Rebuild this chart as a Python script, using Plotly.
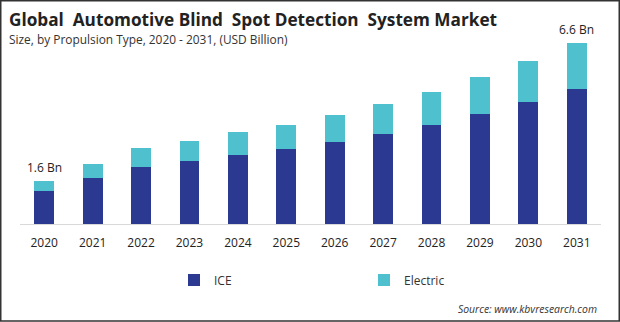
import plotly.graph_objects as go

years = ["2020", "2021", "2022", "2023", "2024", "2025", "2026", "2027", "2028", "2029", "2030", "2031"]
ice = [1.21, 1.68, 2.09, 2.31, 2.53, 2.75, 3.00, 3.30, 3.63, 4.03, 4.47, 4.95]
electric = [0.37, 0.52, 0.69, 0.73, 0.84, 0.88, 0.99, 1.10, 1.21, 1.35, 1.50, 1.68]
end_labels = {"2020": "1.6 Bn", "2031": "6.6 Bn"}

ICE_COLOR = "#2b3990"
EL_COLOR = "#4fc1ce"
FONT = "Open Sans"

W, H = 620, 322
ML, MR, MT, MB = 20, 19, 30, 98
pw = W - ML - MR
ph = H - MT - MB


def py(pixel_y):
    # pixel row from top of the image -> paper y
    return (MT + ph - pixel_y) / ph


def px(pixel_x):
    return (pixel_x - ML) / pw


fig = go.Figure()
fig.add_bar(x=years, y=ice, name="ICE", legend="legend",
            marker=dict(color=ICE_COLOR, line=dict(width=0)))
fig.add_bar(x=years, y=electric, name="Electric", legend="legend2",
            marker=dict(color=EL_COLOR, line=dict(width=0)))

annotations = []
for i, yr in enumerate(years):
    if yr in end_labels:
        annotations.append(dict(x=i, xref="x", y=ice[i] + electric[i], text=end_labels[yr], showarrow=False,
                                yanchor="bottom", yshift=3, font=dict(family=FONT, size=12, color="#222")))

annotations += [
    dict(xref="paper", yref="paper", x=px(7), y=py(20), xanchor="left", yanchor="middle",
         text="<b>Global  Automotive Blind  Spot Detection  System Market</b>", showarrow=False,
         font=dict(family=FONT, size=17.2, color="#222")),
    dict(xref="paper", yref="paper", x=px(7), y=py(39), xanchor="left", yanchor="middle",
         text="Size, by Propulsion Type, 2020 - 2031, (USD Billion)", showarrow=False,
         font=dict(family=FONT, size=11.9, color="#333")),
    dict(xref="paper", yref="paper", x=px(599), y=py(309), xanchor="right",
         yanchor="middle", text="<i>Source: www.kbvresearch.com</i>", showarrow=False,
         font=dict(family=FONT, size=10.4, color="#333")),
]

leg_common = dict(orientation="h", xanchor="left", yanchor="middle", bgcolor="rgba(0,0,0,0)",
                  font=dict(family=FONT, size=12, color="#333"), itemwidth=30)

fig.update_layout(
    width=W, height=H,
    margin=dict(l=ML, r=MR, t=MT, b=MB),
    paper_bgcolor="white", plot_bgcolor="white",
    barmode="stack", bargap=0.59,
    showlegend=True,
    legend=dict(x=px(174), y=py(280), **leg_common),
    legend2=dict(x=px(364), y=py(280), **leg_common),
    xaxis=dict(type="category", range=[-0.5, len(years) - 0.5], showline=True, linecolor="#d9d9d9",
               linewidth=1, ticks="", showgrid=False, ticklabelstandoff=8,
               tickfont=dict(family=FONT, size=12, color="#222")),
    yaxis=dict(visible=False, range=[0, ph / 27.3], showgrid=False, zeroline=False),
    annotations=annotations,
    shapes=[dict(type="rect", xref="paper", yref="paper",
                 x0=px(0.75), x1=px(W - 0.75), y0=py(H - 1), y1=py(0.75),
                 line=dict(color="#333", width=1.5), layer="above")],
    font=dict(family=FONT),
)

fig.write_html("out.html")
